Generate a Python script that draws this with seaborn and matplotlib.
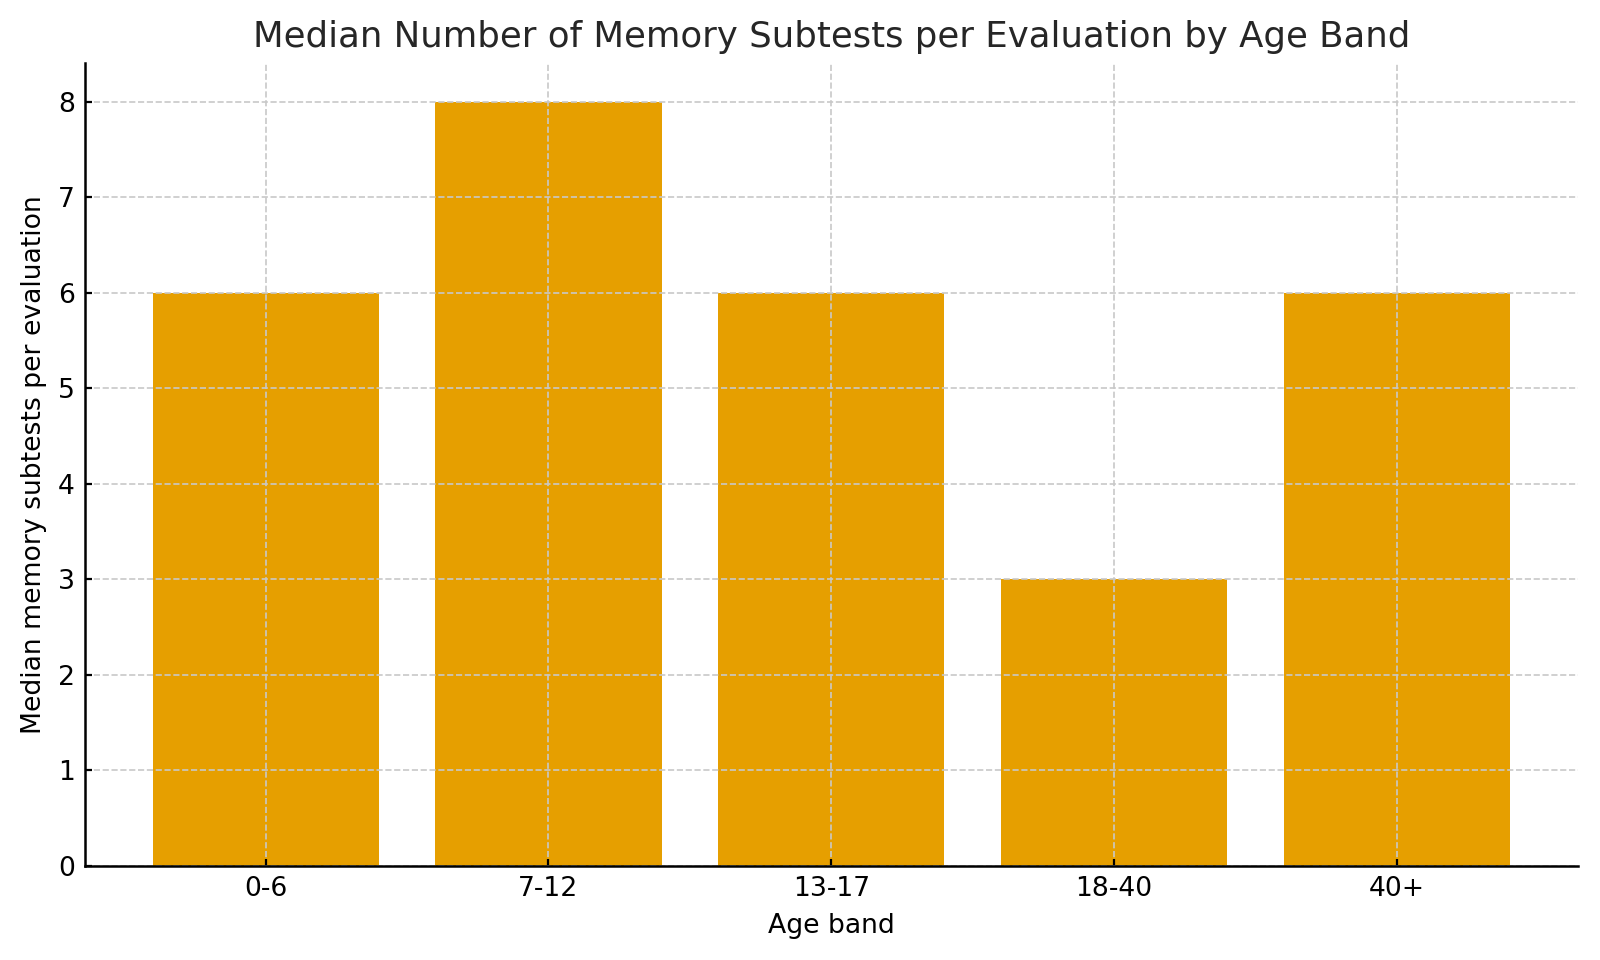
import matplotlib
matplotlib.use("Agg")
import matplotlib.pyplot as plt
import seaborn as sns
import pandas as pd

# data
age_bands = ["0-6", "7-12", "13-17", "18-40", "40+"]
median_subtests = [6, 8, 6, 3, 6]

df = pd.DataFrame({"age_band": age_bands, "median_subtests": median_subtests})

sns.set_style("white")
plt.rcParams["font.family"] = ["DejaVu Sans"]
plt.rcParams.update({"text.color": "black", "axes.labelcolor": "black",
                     "xtick.color": "black", "ytick.color": "black",
                     "axes.edgecolor": "black"})

fig, ax = plt.subplots(figsize=(8, 4.8), dpi=200)
sns.barplot(data=df, x="age_band", y="median_subtests", color="#E69F00",
            saturation=1, width=0.8, linewidth=0, ax=ax)

# matplotlib-style default margins instead of seaborn's tight limits
n = len(age_bands)
span = (n - 1) + 0.8
ax.set_xlim(-0.4 - 0.05 * span, (n - 1) + 0.4 + 0.05 * span)
ax.set_ylim(0, max(median_subtests) * 1.05)

ax.set_axisbelow(False)
ax.grid(True, linestyle="--", color="#c8c8c8", linewidth=0.6)
sns.despine(ax=ax)
for side in ["left", "bottom"]:
    ax.spines[side].set_zorder(3)
    ax.spines[side].set_linewidth(0.9)
ax.tick_params(axis="both", which="both", direction="in", length=2.5,
               width=0.8, pad=3.5, bottom=True, left=True, labelsize=9.6)

ax.set_title("Median Number of Memory Subtests per Evaluation by Age Band",
             fontsize=12.8, color="#262626")
ax.set_xlabel("Age band", fontsize=9.6)
ax.set_ylabel("Median memory subtests per evaluation", fontsize=9.6)

fig.subplots_adjust(left=0.053, right=0.986, top=0.934, bottom=0.098)
fig.savefig("out.png", dpi=200)
